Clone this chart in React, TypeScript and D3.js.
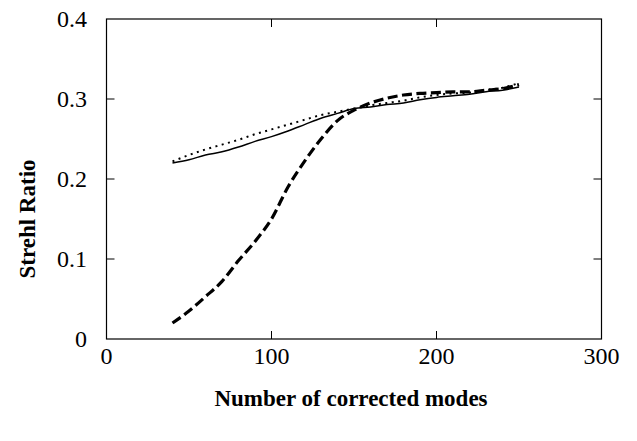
import { useEffect, useRef } from "react";
import * as d3 from "d3";

const modes = [40, 50, 60, 70, 80, 90, 100, 110, 120, 130, 140, 150, 160, 170, 180, 190, 200, 210, 220, 230, 240, 250];
const solidSeries = [0.22, 0.224, 0.23, 0.234, 0.24, 0.247, 0.253, 0.26, 0.268, 0.276, 0.282, 0.288, 0.29, 0.293, 0.295, 0.299, 0.302, 0.304, 0.306, 0.309, 0.311, 0.315];
const dottedSeries = [0.222, 0.23, 0.237, 0.243, 0.249, 0.256, 0.262, 0.268, 0.274, 0.28, 0.284, 0.288, 0.292, 0.295, 0.298, 0.302, 0.305, 0.307, 0.308, 0.311, 0.314, 0.32];
const dashedSeries = [0.02, 0.035, 0.053, 0.072, 0.098, 0.122, 0.15, 0.19, 0.222, 0.25, 0.273, 0.286, 0.295, 0.301, 0.305, 0.307, 0.308, 0.309, 0.309, 0.311, 0.313, 0.318];
const xTicks = [0, 100, 200, 300];
const yTicks = [0, 0.1, 0.2, 0.3, 0.4];

const W = 637;
const H = 441;
const margin = { left: 106.5, right: 35.5, top: 19, bottom: 102 };

export default function App() {
  const svgRef = useRef<SVGSVGElement | null>(null);

  useEffect(() => {
    if (!svgRef.current) return;
    const svg = d3.select(svgRef.current);
    svg.selectAll("*").remove();

    const x = d3.scaleLinear().domain([0, 300]).range([margin.left, W - margin.right]);
    const y = d3.scaleLinear().domain([0, 0.4]).range([H - margin.bottom, margin.top]);
    const font = "'Liberation Serif', 'Times New Roman', serif";
    const tick = 8;

    const g = svg.append("g");

    // frame
    g.append("rect")
      .attr("x", x(0))
      .attr("y", y(0.4))
      .attr("width", x(300) - x(0))
      .attr("height", y(0) - y(0.4))
      .attr("fill", "none")
      .attr("stroke", "#000")
      .attr("stroke-width", 1.2);

    // ticks (inside, mirrored)
    xTicks.slice(1, -1).forEach((t) => {
      g.append("line").attr("x1", x(t)).attr("x2", x(t)).attr("y1", y(0)).attr("y2", y(0) - tick).attr("stroke", "#000");
      g.append("line").attr("x1", x(t)).attr("x2", x(t)).attr("y1", y(0.4)).attr("y2", y(0.4) + tick).attr("stroke", "#000");
    });
    yTicks.slice(1, -1).forEach((t) => {
      g.append("line").attr("x1", x(0)).attr("x2", x(0) + tick).attr("y1", y(t)).attr("y2", y(t)).attr("stroke", "#000");
      g.append("line").attr("x1", x(300)).attr("x2", x(300) - tick).attr("y1", y(t)).attr("y2", y(t)).attr("stroke", "#000");
    });

    // tick labels
    g.selectAll(".xl")
      .data(xTicks)
      .enter()
      .append("text")
      .attr("x", (d) => x(d))
      .attr("y", 364)
      .attr("text-anchor", "middle")
      .attr("font-family", font)
      .attr("font-size", 24)
      .text((d) => String(d));

    g.selectAll(".yl")
      .data(yTicks)
      .enter()
      .append("text")
      .attr("x", 87)
      .attr("y", (d) => y(d) + 8)
      .attr("text-anchor", "end")
      .attr("font-family", font)
      .attr("font-size", 24)
      .text((d) => (d === 0 ? "0" : d.toFixed(1)));

    // axis titles
    g.append("text")
      .attr("x", 351)
      .attr("y", 406)
      .attr("text-anchor", "middle")
      .attr("font-family", font)
      .attr("font-weight", "bold")
      .attr("font-size", 23)
      .text("Number of corrected modes");

    g.append("text")
      .attr("transform", `translate(35, 219) rotate(-90)`)
      .attr("text-anchor", "middle")
      .attr("font-family", font)
      .attr("font-weight", "bold")
      .attr("font-size", 23)
      .text("Strehl Ratio");

    const line = d3
      .line<number>()
      .x((_, i) => x(modes[i]))
      .y((d) => y(d))
      .curve(d3.curveMonotoneX);

    g.append("path")
      .attr("d", line(solidSeries) as string)
      .attr("fill", "none")
      .attr("stroke", "#000")
      .attr("stroke-width", 1.5);

    g.append("path")
      .attr("d", line(dottedSeries) as string)
      .attr("fill", "none")
      .attr("stroke", "#000")
      .attr("stroke-width", 2)
      .attr("stroke-dasharray", "2,4.5");

    g.append("path")
      .attr("d", line(dashedSeries) as string)
      .attr("fill", "none")
      .attr("stroke", "#000")
      .attr("stroke-width", 3.2)
      .attr("stroke-dasharray", "10,4.5");
  }, []);

  return (
    <svg
      ref={svgRef}
      width={W}
      height={H}
      style={{ position: "absolute", left: 0, top: 0, background: "#fff" }}
    />
  );
}
